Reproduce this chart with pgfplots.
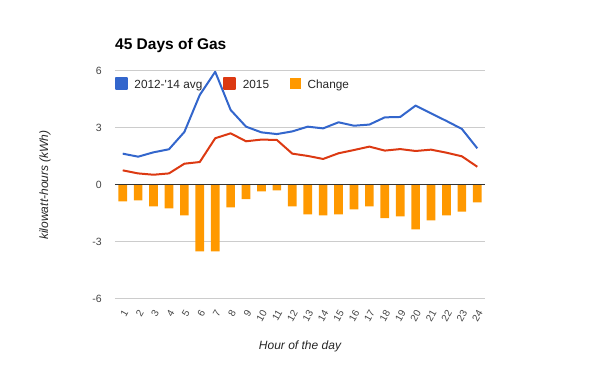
\documentclass[border=0pt]{standalone}
\usepackage{pgfplots}
\pgfplotsset{compat=1.18}
\usepackage{fontspec}
\setmainfont{Liberation Sans}
\definecolor{cblue}{HTML}{3366CC}
\definecolor{cred}{HTML}{DC3912}
\definecolor{corange}{HTML}{FF9900}
\definecolor{tickgray}{HTML}{444444}
\definecolor{gridgray}{HTML}{CCCCCC}
\begin{document}
\begin{tikzpicture}[x=1pt,y=1pt]
\begin{axis}[
  at={(0pt,0pt)}, anchor=south west,
  scale only axis, width=370pt, height=228pt,
  xmin=0.5, xmax=24.5, ymin=-6, ymax=6,
  xtick={1,...,24}, ytick={-6,-3,0,3,6},
  axis line style={draw=none},
  major tick length=0pt,
  ymajorgrids, grid style={gridgray, line width=1pt},
  tick label style={font=\fontsize{10.5}{12}\selectfont, text=tickgray},
  /pgf/number format/assume math mode=true,
  y tick label style={inner sep=0pt, xshift=-13pt},
  x tick label style={font=\fontsize{10}{12}\selectfont, yshift=-12pt, xshift=3pt, rotate=60, anchor=east, inner sep=0pt},
  xlabel={\itshape Hour of the day},
  ylabel={\itshape kilowatt-hours (kWh)},
  label style={font=\fontsize{12}{14}\selectfont, text=black!85},
  xlabel style={at={(axis description cs:0.5,-0.206)}, anchor=center},
  ylabel style={at={(axis description cs:-0.189,0.5)}, anchor=center},
  legend columns=3,
  legend style={at={(axis description cs:0,0.944)}, anchor=west, draw=none, fill=none,
    inner sep=0pt, outer sep=0pt,
    font=\fontsize{11.8}{14}\selectfont, text=black!85,
    nodes={inner sep=0pt, anchor=base west},
    /tikz/every odd column/.append style={column sep=6.5pt},
    /tikz/every even column/.append style={column sep=21pt}},
  clip=false,
]
\addplot[cblue, line width=2pt, line join=round,
  legend image code/.code={\fill[cblue] (0pt,-1pt) rectangle (11pt,10pt);}]
  coordinates {(1,1.65)(2,1.49)(3,1.72)(4,1.88)(5,2.79)(6,4.74)(7,5.96)(8,3.95)(9,3.07)(10,2.77)(11,2.68)(12,2.82)
  (13,3.07)(14,2.98)(15,3.30)(16,3.12)(17,3.18)(18,3.56)(19,3.58)(20,4.18)(21,3.77)(22,3.37)(23,2.95)(24,1.93)};
\addlegendentry{2012-\textquotesingle14 avg}
\addplot[cred, line width=2pt, line join=round,
  legend image code/.code={\fill[cred] (0pt,-1pt) rectangle (11pt,10pt);}]
  coordinates {(1,0.77)(2,0.61)(3,0.54)(4,0.61)(5,1.12)(6,1.21)(7,2.46)(8,2.72)(9,2.30)(10,2.39)(11,2.37)(12,1.65)
  (13,1.53)(14,1.37)(15,1.67)(16,1.84)(17,2.02)(18,1.81)(19,1.89)(20,1.79)(21,1.86)(22,1.70)(23,1.51)(24,0.96)};
\addlegendentry{2015}
\addplot[ybar, bar width=8.7pt, bar shift=0pt, fill=corange, draw=none,
  legend image code/.code={\fill[corange] (0pt,-1pt) rectangle (11pt,10pt);}]
  coordinates {(1,-0.86)(2,-0.81)(3,-1.12)(4,-1.23)(5,-1.60)(6,-3.49)(7,-3.49)(8,-1.18)(9,-0.75)(10,-0.33)(11,-0.28)(12,-1.12)
  (13,-1.54)(14,-1.60)(15,-1.54)(16,-1.28)(17,-1.12)(18,-1.75)(19,-1.65)(20,-2.33)(21,-1.86)(22,-1.60)(23,-1.40)(24,-0.91)};
\addlegendentry{Change}
\draw[black!80, line width=1pt] (rel axis cs:0,0.5) -- (rel axis cs:1,0.5);
\node[anchor=base west, inner sep=0pt, font=\bfseries\fontsize{15.5}{18}\selectfont] at ([yshift=21.7pt]rel axis cs:0,1) {45 Days of Gas};
\end{axis}
\path (-115pt,-72pt) rectangle (485pt,299pt);
\end{tikzpicture}
\end{document}
